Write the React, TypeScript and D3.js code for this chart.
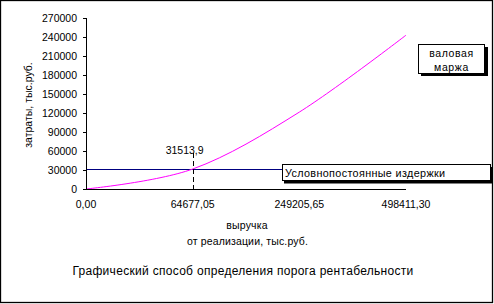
import React from "react";
import * as d3 from "d3";

const categories = ["0,00", "64677,05", "249205,65", "498411,30"];
const grossMargin = [0, 31513.9, 121430, 242860];
const fixedCosts = [31513.9, 31513.9, 31513.9, 31513.9];
const yTicks = [0, 30000, 60000, 90000, 120000, 150000, 180000, 210000, 240000, 270000];
const breakEvenIndex = 1;
const breakEvenLabel = "31513,9";

const FONT = "'Liberation Sans', Arial, sans-serif";

export default function App() {
  const W = 494, H = 304;
  const x = d3.scalePoint<string>().domain(categories).range([86, 406]);
  const y = d3.scaleLinear().domain([0, 270000]).range([189, 18]);

  const lineGM = d3
    .line<number>()
    .x((_, i) => x(categories[i])!)
    .y((d) => y(d))
    .curve(d3.curveCatmullRom.alpha(0));
  const lineFC = d3
    .line<number>()
    .x((_, i) => x(categories[i])!)
    .y((d) => Math.round(y(d)) + 0.5);

  const bx = x(categories[breakEvenIndex])!;
  const by = y(grossMargin[breakEvenIndex]);

  return (
    <svg width={W} height={H} style={{ position: "absolute", left: 0, top: 0, background: "#fff" }} fontFamily={FONT}>
      <rect x={0.5} y={0.5} width={492} height={302} fill="#fff" stroke="#000" strokeWidth={1.3} />
      {/* fixed costs line */}
      <path d={lineFC(fixedCosts)!} fill="none" stroke="#000080" strokeWidth={1} shapeRendering="crispEdges" />
      {/* gross margin curve */}
      <path d={lineGM(grossMargin)!} fill="none" stroke="#ff00ff" strokeWidth={1} />
      {/* axes */}
      <line x1={86.5} x2={86.5} y1={y(270000)} y2={y(0)} stroke="#000" shapeRendering="crispEdges" />
      <line x1={86} x2={406} y1={189.5} y2={189.5} stroke="#000" shapeRendering="crispEdges" />
      {yTicks.map((t) => (
        <g key={t}>
          <line x1={83} x2={87} y1={Math.round(y(t)) + 0.5} y2={Math.round(y(t)) + 0.5} stroke="#000" shapeRendering="crispEdges" />
          <text x={77} y={y(t) + 4} textAnchor="end" fontSize={10.5} fill="#000">
            {t}
          </text>
        </g>
      ))}
      {categories.map((c) => (
        <text key={c} x={x(c)!} y={208} textAnchor="middle" fontSize={10.5} fill="#000">
          {c}
        </text>
      ))}
      {/* break-even dashed line */}
      <line x1={bx + 0.5} x2={bx + 0.5} y1={by - 16} y2={193} stroke="#000" strokeDasharray="5,3" shapeRendering="crispEdges" />
      <text x={bx - 8} y={154} textAnchor="middle" fontSize={10.5} fill="#000">
        {breakEvenLabel}
      </text>
      {/* legend: валовая маржа */}
      <rect x={421} y={47} width={67} height={29} fill="#000" />
      <rect x={418.5} y={44.5} width={66} height={28.5} fill="#fff" stroke="#000" shapeRendering="crispEdges" />
      <text x={451.5} y={57} textAnchor="middle" fontSize={10.5} letterSpacing={0.6} fill="#000">
        валовая
      </text>
      <text x={451.5} y={71} textAnchor="middle" fontSize={10.5} letterSpacing={0.6} fill="#000">
        маржа
      </text>
      {/* legend: Условнопостоянные издержки */}
      <rect x={284} y={167} width={209} height={16.5} fill="#000" />
      <rect x={282} y={164.5} width={208.5} height={16} fill="#fff" stroke="#000" shapeRendering="crispEdges" />
      <text x={285} y={176.5} fontSize={10.8} letterSpacing={0.35} fill="#000">
        Условнопостоянные издержки
      </text>
      {/* axis titles */}
      <text transform="translate(32,105) rotate(-90)" textAnchor="middle" fontSize={10.5} fill="#000">
        затраты, тыс.руб.
      </text>
      <text x={247} y={229} textAnchor="middle" fontSize={10.5} letterSpacing={0.15} fill="#000">
        выручка
      </text>
      <text x={247.5} y={245} textAnchor="middle" fontSize={10.5} letterSpacing={0.15} fill="#000">
        от реализации, тыс.руб.
      </text>
      <text x={243} y={275} textAnchor="middle" fontSize={12} letterSpacing={0.3} fill="#000">
        Графический способ определения порога рентабельности
      </text>
    </svg>
  );
}
